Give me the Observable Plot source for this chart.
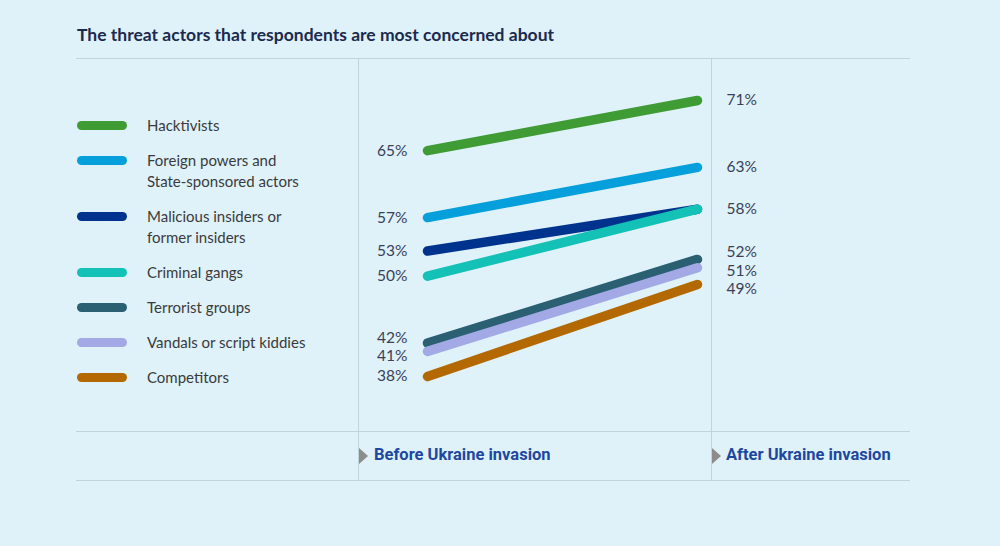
<!DOCTYPE html>
<html>
<head>
<meta charset="utf-8">
<script src="https://cdn.jsdelivr.net/npm/d3@7"></script>
<script src="https://cdn.jsdelivr.net/npm/@observablehq/plot@0.6"></script>
<style>
  html, body { margin: 0; padding: 0; background: #dff2fa; }
  #wrap { position: relative; width: 1000px; height: 546px; background: #dff2fa; overflow: hidden; font-family: Lato, "Open Sans", sans-serif; }
  #title { position: absolute; left: 77px; top: 24px; font-size: 17.5px; font-weight: 700; color: #1b2a4e; white-space: nowrap; }
  .hr { position: absolute; left: 76px; width: 834px; height: 0; border-top: 1.5px solid #c4d2d9; }
  .vr { position: absolute; top: 58px; height: 422px; width: 0; border-left: 1.5px solid #c4d2d9; }
  #legend { position: absolute; left: 77px; top: 115px; }
  .item { display: flex; align-items: flex-start; margin-bottom: 14px; }
  .swatch { width: 50px; height: 9px; border-radius: 5px; margin-top: 6px; margin-right: 20px; flex: none; }
  .ltext { font-size: 15px; line-height: 21px; color: #3a3a3a; }
  .period { position: absolute; top: 445px; font-family: "Liberation Sans Narrow", "Roboto", sans-serif; font-weight: 700; font-size: 16.5px; color: #1e48a0; white-space: nowrap; }
  .tri { position: absolute; top: 448px; width: 0; height: 0; border-top: 8px solid transparent; border-bottom: 8px solid transparent; border-left: 9px solid #8c8c8c; }
  #chart { position: absolute; left: 0; top: 0; }
</style>
</head>
<body>
<div id="wrap">
  <div id="title">The threat actors that respondents are most concerned about</div>
  <div class="hr" style="top:58px"></div>
  <div class="hr" style="top:431px"></div>
  <div class="hr" style="top:480px"></div>
  <div class="vr" style="left:358px"></div>
  <div class="vr" style="left:711px"></div>
  <div id="legend"></div>
  <div class="tri" style="left:359px"></div>
  <div class="period" id="p0" style="left:374px"></div>
  <div class="tri" style="left:712px"></div>
  <div class="period" id="p1" style="left:726px"></div>
  <div id="chart"></div>
</div>
<script>
const categories = [
  "Hacktivists",
  "Foreign powers and State-sponsored actors",
  "Malicious insiders or former insiders",
  "Criminal gangs",
  "Terrorist groups",
  "Vandals or script kiddies",
  "Competitors"
];
const legendLines = [
  ["Hacktivists"],
  ["Foreign powers and", "State-sponsored actors"],
  ["Malicious insiders or", "former insiders"],
  ["Criminal gangs"],
  ["Terrorist groups"],
  ["Vandals or script kiddies"],
  ["Competitors"]
];
const periods = ["Before Ukraine invasion", "After Ukraine invasion"];
const before = [65, 57, 53, 50, 42, 41, 38];
const after = [71, 63, 58, 58, 52, 51, 49];
const colors = ["#3f9c35", "#05a0db", "#00338d", "#14c1b6", "#2a6072", "#a2a9e5", "#b46900"];

// Legend
const legend = document.getElementById("legend");
categories.forEach((c, i) => {
  const item = document.createElement("div");
  item.className = "item";
  const sw = document.createElement("div");
  sw.className = "swatch";
  sw.style.background = colors[i];
  const t = document.createElement("div");
  t.className = "ltext";
  t.innerHTML = legendLines[i].join("<br>");
  item.appendChild(sw); item.appendChild(t);
  legend.appendChild(item);
});
document.getElementById("p0").textContent = periods[0];
document.getElementById("p1").textContent = periods[1];

const data = categories.flatMap((c, i) => [
  {actor: c, period: periods[0], value: before[i]},
  {actor: c, period: periods[1], value: after[i]}
]);

// simple label de-overlap in value units
function spread(values, gap) {
  const uniq = Array.from(new Set(values)).sort((a, b) => b - a);
  const pos = uniq.map(v => v);
  for (let k = 0; k < 200; k++) {
    for (let i = 0; i < pos.length - 1; i++) {
      const d = pos[i] - pos[i + 1];
      if (d < gap) {
        const s = (gap - d) / 2;
        pos[i] += s; pos[i + 1] -= s;
      }
    }
  }
  return uniq.map((v, i) => ({value: v, pos: pos[i], label: v + "%"}));
}
const gapUnits = 2.2;
const leftLabels = spread(before, gapUnits);
const rightLabels = spread(after, gapUnits);

const chart = Plot.plot({
  width: 1000,
  height: 546,
  marginLeft: 427,
  marginRight: 303,
  marginTop: 100,
  marginBottom: 170,
  style: {background: "transparent", fontFamily: "Lato, 'Open Sans', sans-serif"},
  x: {type: "point", domain: periods, padding: 0, axis: null},
  y: {domain: [38, 71], axis: null},
  color: {domain: categories, range: colors},
  marks: [
    Plot.line(data, {x: "period", y: "value", z: "actor", stroke: "actor", strokeWidth: 9.5, strokeLinecap: "round", strokeLinejoin: "round"}),
    Plot.text(leftLabels, {x: () => periods[0], y: "pos", text: "label", textAnchor: "end", dx: -20, fontSize: 15.5, fill: "#3b4059"}),
    Plot.text(rightLabels, {x: () => periods[1], y: "pos", text: "label", textAnchor: "start", dx: 29, fontSize: 15.5, fill: "#3b4059"})
  ]
});
document.getElementById("chart").appendChild(chart);
</script>
</body>
</html>
